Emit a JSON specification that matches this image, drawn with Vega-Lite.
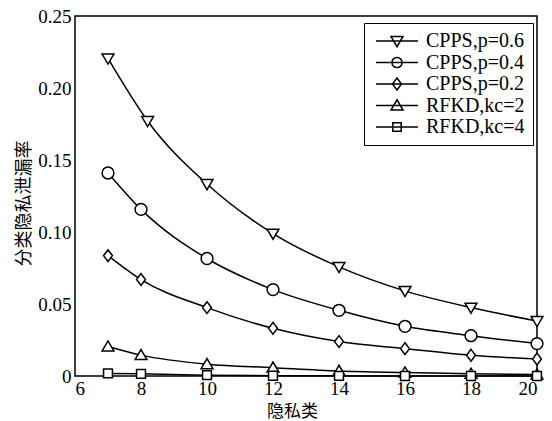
{
  "$schema": "https://vega.github.io/schema/vega-lite/v6.json",
  "width": 462,
  "height": 360,
  "autosize": {"type": "none"},
  "padding": {"left": 75, "top": 16, "right": 15, "bottom": 45},
  "background": "white",
  "config": {
    "view": {"stroke": "black", "strokeWidth": 1.5},
    "axis": {
      "domain": false,
      "grid": false,
      "ticks": false,
      "tickSize": 0,
      "labelFont": "Liberation Serif",
      "labelFontSize": 19,
      "labelColor": "black",
      "titleFont": "Noto Sans CJK SC",
      "titleFontSize": 17,
      "titleFontWeight": "normal",
      "titleColor": "black"
    }
  },
  "data": {
    "values": [
      {"series": "CPPS,p=0.6", "x": 7, "y": 0.2205},
      {"series": "CPPS,p=0.6", "x": 8.2, "y": 0.1771},
      {"series": "CPPS,p=0.6", "x": 10, "y": 0.1333},
      {"series": "CPPS,p=0.6", "x": 12, "y": 0.0989},
      {"series": "CPPS,p=0.6", "x": 14, "y": 0.0758},
      {"series": "CPPS,p=0.6", "x": 16, "y": 0.0591},
      {"series": "CPPS,p=0.6", "x": 18, "y": 0.0475},
      {"series": "CPPS,p=0.6", "x": 20, "y": 0.0382},
      {"series": "CPPS,p=0.4", "x": 7, "y": 0.141},
      {"series": "CPPS,p=0.4", "x": 8, "y": 0.1157},
      {"series": "CPPS,p=0.4", "x": 10, "y": 0.0816},
      {"series": "CPPS,p=0.4", "x": 12, "y": 0.06},
      {"series": "CPPS,p=0.4", "x": 14, "y": 0.0456},
      {"series": "CPPS,p=0.4", "x": 16, "y": 0.0345},
      {"series": "CPPS,p=0.4", "x": 18, "y": 0.028},
      {"series": "CPPS,p=0.4", "x": 20, "y": 0.0225},
      {"series": "CPPS,p=0.2", "x": 7, "y": 0.0836},
      {"series": "CPPS,p=0.2", "x": 8, "y": 0.067},
      {"series": "CPPS,p=0.2", "x": 10, "y": 0.0475},
      {"series": "CPPS,p=0.2", "x": 12, "y": 0.0331},
      {"series": "CPPS,p=0.2", "x": 14, "y": 0.0239},
      {"series": "CPPS,p=0.2", "x": 16, "y": 0.019},
      {"series": "CPPS,p=0.2", "x": 18, "y": 0.0144},
      {"series": "CPPS,p=0.2", "x": 20, "y": 0.0118},
      {"series": "RFKD,kc=2", "x": 7, "y": 0.0205},
      {"series": "RFKD,kc=2", "x": 8, "y": 0.0145},
      {"series": "RFKD,kc=2", "x": 10, "y": 0.0082},
      {"series": "RFKD,kc=2", "x": 12, "y": 0.0058},
      {"series": "RFKD,kc=2", "x": 14, "y": 0.0035},
      {"series": "RFKD,kc=2", "x": 16, "y": 0.0024},
      {"series": "RFKD,kc=2", "x": 18, "y": 0.0015},
      {"series": "RFKD,kc=2", "x": 20, "y": 0.001},
      {"series": "RFKD,kc=4", "x": 7, "y": 0.0018},
      {"series": "RFKD,kc=4", "x": 8, "y": 0.0015},
      {"series": "RFKD,kc=4", "x": 10, "y": 0.0006},
      {"series": "RFKD,kc=4", "x": 12, "y": 0.0002},
      {"series": "RFKD,kc=4", "x": 14, "y": 0.0001},
      {"series": "RFKD,kc=4", "x": 16, "y": 0.0},
      {"series": "RFKD,kc=4", "x": 18, "y": 0.0},
      {"series": "RFKD,kc=4", "x": 20, "y": 0.0}
    ]
  },
  "encoding": {
    "x": {
      "field": "x",
      "type": "quantitative",
      "scale": {"domain": [6, 20], "nice": false, "zero": false},
      "axis": {
        "values": [6, 8, 10, 12, 14, 16, 18, 20],
        "labelPadding": 3,
        "title": "隐私类",
        "titleX": 217,
        "titleY": 35,
        "titleAlign": "center",
        "titleBaseline": "middle",
        "titleAnchor": null
      }
    },
    "y": {
      "field": "y",
      "type": "quantitative",
      "scale": {"domain": [0, 0.25], "nice": false},
      "axis": {
        "values": [0, 0.05, 0.1, 0.15, 0.2, 0.25],
        "labelExpr": "datum.value == 0 ? '0' : format(datum.value, '.2f')",
        "labelPadding": 4,
        "title": "分类隐私泄漏率",
        "titleFontSize": 18,
        "titleX": -51,
        "titleY": 187,
        "titleAngle": 270,
        "titleAlign": "center",
        "titleBaseline": "middle"
      }
    }
  },
  "layer": [
    {
      "mark": {"type": "line", "color": "black", "strokeWidth": 1.5, "interpolate": "monotone"},
      "encoding": {"detail": {"field": "series"}}
    },
    {
      "mark": {"type": "point", "filled": true, "fill": "white", "stroke": "black", "strokeWidth": 1.5, "opacity": 1, "size": 140},
      "encoding": {
        "shape": {
          "field": "series",
          "type": "nominal",
          "scale": {
            "domain": ["CPPS,p=0.6", "CPPS,p=0.4", "CPPS,p=0.2", "RFKD,kc=2", "RFKD,kc=4"],
            "range": [
              "M-1,-0.75L1,-0.75L0,0.95Z",
              "circle",
              "M0,-1L0.75,0L0,1L-0.75,0Z",
              "M-1,0.75L1,0.75L0,-0.95Z",
              "M-0.75,-0.75L0.75,-0.75L0.75,0.75L-0.75,0.75Z"
            ]
          },
          "legend": null
        }
      }
    },
    {
      "mark": {"type": "point", "filled": false, "stroke": "black", "strokeWidth": 1.5, "opacity": 0, "size": 1},
      "encoding": {
        "shape": {
          "field": "series",
          "type": "nominal",
          "scale": {
            "domain": ["CPPS,p=0.6", "CPPS,p=0.4", "CPPS,p=0.2", "RFKD,kc=2", "RFKD,kc=4"],
            "range": [
              "M-3.5,0L3.5,0M-1,-0.75L1,-0.75L0,0.95Z",
              "M-3.5,0L3.5,0M0.85,0A0.85,0.85,0,1,1,-0.85,0A0.85,0.85,0,1,1,0.85,0Z",
              "M-3.5,0L3.5,0M0,-1L0.75,0L0,1L-0.75,0Z",
              "M-3.5,0L3.5,0M-1,0.75L1,0.75L0,-0.95Z",
              "M-3.5,0L3.5,0M-0.7,-0.7L0.7,-0.7L0.7,0.7L-0.7,0.7Z"
            ]
          },
          "legend": {
            "orient": "none",
            "legendX": 289,
            "legendY": 7,
            "title": null,
            "strokeColor": "black",
            "fillColor": "white",
            "padding": 8,
            "symbolSize": 144,
            "symbolOffset": 15,
            "symbolStrokeColor": "black",
            "symbolFillColor": "white",
            "symbolStrokeWidth": 1.5,
            "symbolOpacity": 1,
            "labelFont": "Liberation Serif",
            "labelFontSize": 20,
            "labelColor": "black",
            "labelOffset": 19,
            "labelLimit": 0,
            "rowPadding": 1.5,
            "encode": {
              "legend": {"update": {"strokeWidth": {"value": 1.5}}},
              "symbols": {"update": {"fill": {"value": "white"}, "stroke": {"value": "black"}, "strokeWidth": {"value": 1.5}, "opacity": {"value": 1}}}
            }
          }
        }
      }
    }
  ],
  "resolve": {"scale": {"shape": "independent"}}
}
